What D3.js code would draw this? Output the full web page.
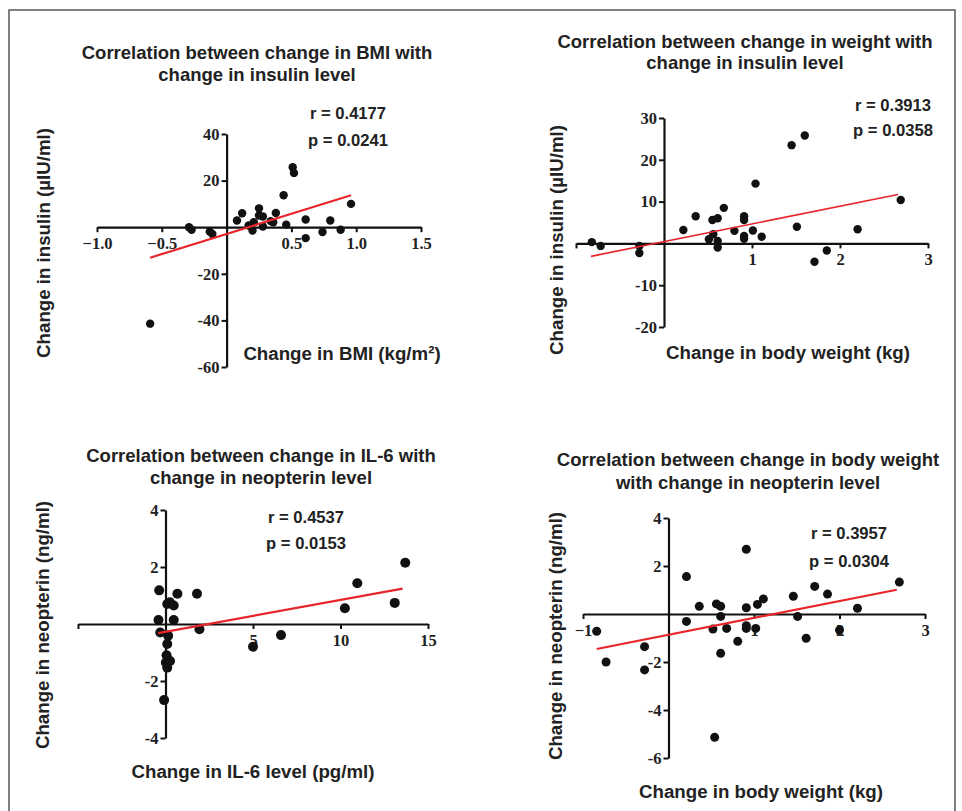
<!DOCTYPE html>
<html>
<head>
<meta charset="utf-8">
<script src="https://cdn.jsdelivr.net/npm/d3@7"></script>
<style>
  body { margin: 0; background: #fff; }
  svg { display: block; }
  .title, .lab, .stat { font-family: "Liberation Sans", Arial, sans-serif; font-weight: bold; fill: #222; }
  .tick text { font-family: "Liberation Serif", "Times New Roman", serif; font-weight: bold; fill: #222; }
</style>
</head>
<body>
<div id="chart"></div>
<script>
// panel A: BMI vs insulin
var bmiX = [-0.59, -0.29, -0.27, -0.13, -0.11, 0.08, 0.12, 0.17, 0.20, 0.21, 0.25, 0.25, 0.28, 0.28, 0.34, 0.36, 0.38, 0.44, 0.46, 0.51, 0.52, 0.61, 0.61, 0.74, 0.80, 0.88, 0.96];
var bmiInsY = [-41.4, 0, -1.1, -1.9, -2.9, 2.9, 6, 0.7, -1.4, 2.1, 8.1, 5, 4.6, 0.3, 2.6, 2.1, 6.1, 13.7, 1.1, 25.7, 23.3, 3.3, -4.7, -2.1, 2.9, -1.1, 10];
var bmiFitX = [-0.59, 0.96];
var bmiFitY = [-13.1, 13.7];

// panel B: weight vs insulin
var wtX = [-0.82, -0.72, -0.28, -0.28, 0.22, 0.36, 0.51, 0.55, 0.56, 0.61, 0.61, 0.61, 0.68, 0.80, 0.91, 0.91, 0.91, 0.91, 1.01, 1.04, 1.11, 1.45, 1.51, 1.60, 1.71, 1.85, 2.20, 2.69];
var wtInsY = [0.3, -0.6, -0.6, -2.3, 3.2, 6.5, 1, 5.6, 2.2, 6, 0.6, -1, 8.5, 3, 6.5, 5.6, 1.8, 1.1, 3.1, 14.3, 1.6, 23.5, 4, 25.8, -4.4, -1.7, 3.4, 10.4];
var wtFitX = [-0.83, 2.66];
var wtFitY = [-3.1, 11.7];

// panel C: IL-6 vs neopterin
var il6X = [-0.36, -0.40, -0.30, 0.10, 0.25, 0.47, 0.47, 0.68, 0.15, 0.10, 0.06, 0.26, 0.02, 0.10, -0.08, 1.80, 1.94, 5.0, 6.6, 10.25, 10.96, 13.1, 13.7];
var il6NeoY = [1.18, 0.14, -0.3, 0.7, 0.76, 0.65, 0.14, 1.06, -0.41, -0.7, -1.1, -1.3, -1.35, -1.53, -2.67, 1.06, -0.18, -0.8, -0.39, 0.55, 1.43, 0.74, 2.15];
var il6FitX = [-0.42, 13.55];
var il6FitY = [-0.32, 1.24];

// panel D: weight vs neopterin
var wt2X = [-0.84, -0.73, -0.28, -0.28, 0.21, 0.21, 0.36, 0.52, 0.54, 0.56, 0.61, 0.61, 0.61, 0.68, 0.81, 0.91, 0.91, 0.91, 0.91, 1.02, 1.04, 1.11, 1.46, 1.51, 1.61, 1.71, 1.86, 2.00, 2.21, 2.70];
var wt2NeoY = [-0.72, -2.0, -1.36, -2.33, 1.56, -0.31, 0.32, -0.63, -5.14, 0.42, 0.32, -0.1, -1.64, -0.6, -1.14, 2.7, 0.26, -0.49, -0.6, -0.6, 0.4, 0.63, 0.74, -0.1, -1.01, 1.15, 0.83, -0.67, 0.24, 1.33];
var wt2FitX = [-0.84, 2.67];
var wt2FitY = [-1.46, 1.01];

var titles = [
  ["Correlation between change in BMI with", "change in insulin level"],
  ["Correlation between change in weight with", "change in insulin level"],
  ["Correlation between change in IL-6 with", "change in neopterin level"],
  ["Correlation between change in body weight", "with change in neopterin level"]
];
var xLabels = ["Change in BMI (kg/m\u00b2)", "Change in body weight (kg)", "Change in IL-6 level (pg/ml)", "Change in body weight (kg)"];
var yLabels = ["Change in insulin (\u00b5IU/ml)", "Change in insulin (\u00b5IU/ml)", "Change in neopterin (ng/ml)", "Change in neopterin (ng/ml)"];
var rVals = ["r = 0.4177", "r = 0.3913", "r = 0.4537", "r = 0.3957"];
var pVals = ["p = 0.0241", "p = 0.0358", "p = 0.0153", "p = 0.0304"];

var xTicks = [[-1, -0.5, 0, 0.5, 1, 1.5], [-1, 0, 1, 2, 3], [-5, 0, 5, 10, 15], [-1, 0, 1, 2, 3]];
var yTicks = [[-60, -40, -20, 0, 20, 40], [-20, -10, 0, 10, 20, 30], [-4, -2, 0, 2, 4], [-6, -4, -2, 0, 2, 4]];
var xHidden = [[0], [-1, 0], [-5, 0], [0]];

var w = 962, h = 811;

var svg = d3.select("#chart").append("svg")
  .attr("width", w)
  .attr("height", h);

// outer frame
svg.append("rect")
  .attr("x", 9).attr("y", 10)
  .attr("width", 946).attr("height", 830)
  .attr("fill", "none")
  .attr("stroke", "#555")
  .attr("stroke-width", 1.5);

// layout of each panel (pixel boxes)
var panels = [
  {xs: bmiX, ys: bmiInsY, fx: bmiFitX, fy: bmiFitY, xr: [97, 421], yr: [367, 134], xd: [-1, 1.5], yd: [-60, 40], r: 4.2, fmtX: d3.format(".1f"),
   title: [257, 59, 81], stat: [348, 119, 146], xl: [342, 360], yl: [50, 243]},
  {xs: wtX, ys: wtInsY, fx: wtFitX, fy: wtFitY, xr: [576, 928], yr: [327, 118], xd: [-1, 3], yd: [-20, 30], r: 4.2, fmtX: d3.format("d"),
   title: [745, 48, 69], stat: [893, 111, 136], xl: [788, 359], yl: [563, 240]},
  {xs: il6X, ys: il6NeoY, fx: il6FitX, fy: il6FitY, xr: [78, 428], yr: [738, 510], xd: [-5, 15], yd: [-4, 4], r: 5, fmtX: d3.format("d"),
   title: [261, 462, 484], stat: [306, 523, 549], xl: [253, 778], yl: [49, 625]},
  {xs: wt2X, ys: wt2NeoY, fx: wt2FitX, fy: wt2FitY, xr: [583, 925], yr: [758, 518], xd: [-1, 3], yd: [-6, 4], r: 4.5, fmtX: d3.format("d"),
   title: [748, 466, 489], stat: [849, 539, 567], xl: [761, 798], yl: [562, 636]}
];

panels.forEach(function(p, i) {
  var g = svg.append("g");
  var x = d3.scaleLinear().domain(p.xd).range(p.xr);
  var y = d3.scaleLinear().domain(p.yd).range(p.yr);

  // x axis through y = 0
  var xAxis = d3.axisBottom(x)
    .tickValues(xTicks[i])
    .tickSizeInner(5).tickSizeOuter(0).tickPadding(5)
    .tickFormat(function(d) { return xHidden[i].indexOf(d) >= 0 ? "" : p.fmtX(d); });
  var gx = g.append("g").attr("transform", "translate(0," + y(0) + ")").call(xAxis);

  // y axis through x = 0
  var yAxis = d3.axisLeft(y)
    .tickValues(yTicks[i])
    .tickSizeInner(5).tickSizeOuter(0).tickPadding(2)
    .tickFormat(function(d) { return d === 0 ? "" : d; });
  var gy = g.append("g").attr("transform", "translate(" + x(0) + ",0)").call(yAxis);

  [gx, gy].forEach(function(a) {
    a.select(".domain").attr("stroke", "#111").attr("stroke-width", 2.2);
    a.selectAll(".tick line").attr("stroke", "#111").attr("stroke-width", 2);
    a.selectAll(".tick text").style("font-size", "16.5px");
  });
  gx.selectAll(".tick").filter(function(d) { return d === 0; }).select("line").remove();
  gy.selectAll(".tick").filter(function(d) { return d === 0; }).select("line").remove();

  // dots
  var pts = p.xs.map(function(v, k) { return [v, p.ys[k]]; });
  g.selectAll("circle")
    .data(pts)
    .enter()
    .append("circle")
    .attr("cx", function(d) { return x(d[0]); })
    .attr("cy", function(d) { return y(d[1]); })
    .attr("r", p.r)
    .attr("fill", "#111");

  // regression line
  var fit = p.fx.map(function(v, k) { return [v, p.fy[k]]; });
  g.append("path")
    .datum(fit)
    .attr("d", d3.line().x(function(d) { return x(d[0]); }).y(function(d) { return y(d[1]); }))
    .attr("stroke", "#e8252b")
    .attr("stroke-width", i === 1 ? 1.6 : 2.2)
    .attr("fill", "none");

  // title
  titles[i].forEach(function(t, k) {
    g.append("text").attr("class", "title")
      .attr("x", p.title[0]).attr("y", p.title[1 + k])
      .attr("text-anchor", "middle")
      .style("font-size", "18.5px")
      .text(t);
  });

  // r and p
  g.append("text").attr("class", "stat")
    .attr("x", p.stat[0]).attr("y", p.stat[1])
    .attr("text-anchor", "middle").style("font-size", "16.6px")
    .text(rVals[i]);
  g.append("text").attr("class", "stat")
    .attr("x", p.stat[0]).attr("y", p.stat[2])
    .attr("text-anchor", "middle").style("font-size", "16.6px")
    .text(pVals[i]);

  // axis labels
  g.append("text").attr("class", "lab")
    .attr("x", p.xl[0]).attr("y", p.xl[1])
    .attr("text-anchor", "middle").style("font-size", "18.7px")
    .text(xLabels[i]);
  g.append("text").attr("class", "lab")
    .attr("transform", "translate(" + p.yl[0] + "," + p.yl[1] + ") rotate(-90)")
    .attr("text-anchor", "middle").style("font-size", "18.7px")
    .text(yLabels[i]);
});
</script>
</body>
</html>
